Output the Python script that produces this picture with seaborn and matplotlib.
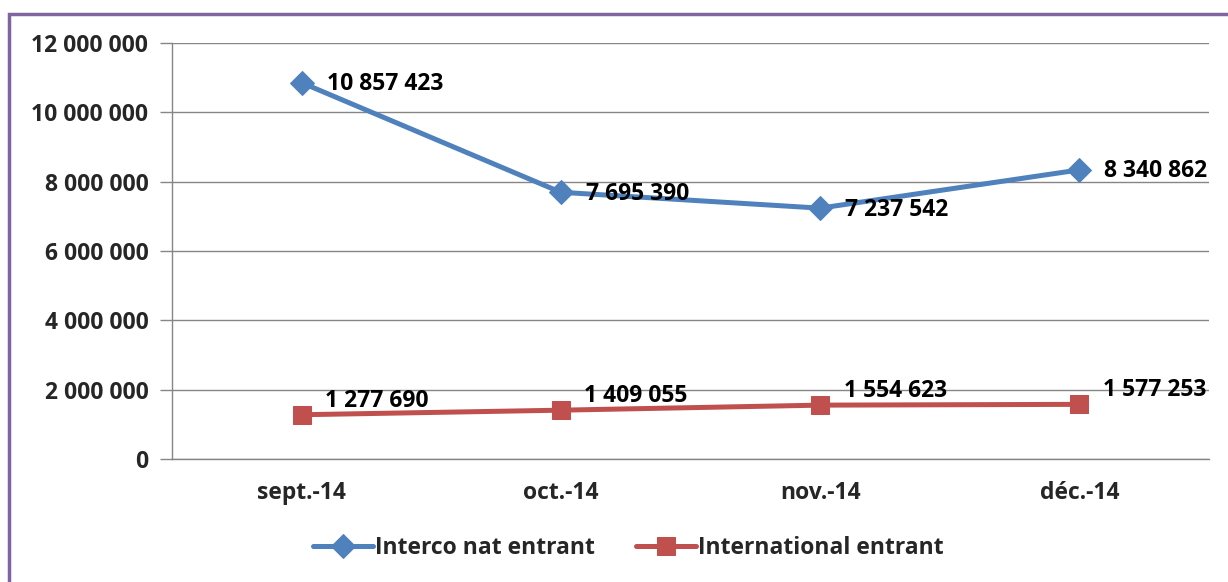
import matplotlib
matplotlib.use("Agg")
import matplotlib.pyplot as plt
import seaborn as sns
import pandas as pd
from matplotlib.patches import Rectangle
from matplotlib.ticker import FuncFormatter, FixedLocator

# données
mois = ["sept.-14", "oct.-14", "nov.-14", "déc.-14"]
interco_nat = [10857423, 7695390, 7237542, 8340862]
international = [1277690, 1409055, 1554623, 1577253]
series_names = ["Interco nat entrant", "International entrant"]

sns.set_theme(style="white")
plt.rcParams['font.family'] = ['Open Sans', 'DejaVu Sans']
plt.rcParams['font.weight'] = 'bold'

FS = 16.5

def fmt(v):
    return f"{int(v):,}".replace(",", " ")

fig = plt.figure(figsize=(12.28, 5.82), dpi=100)
ax = fig.add_axes([0.140, 0.2113, 0.8445, 0.7147])

x = list(range(len(mois)))
df = pd.DataFrame({"x": x, "interco": interco_nat, "intl": international})

blue = "#4F81BD"
red = "#C0504D"
sns.lineplot(data=df, x="x", y="interco", ax=ax, color=blue, lw=3.6,
             marker="D", markersize=12, markeredgecolor=blue, label=series_names[0])
sns.lineplot(data=df, x="x", y="intl", ax=ax, color=red, lw=3.6,
             marker="s", markersize=13.5, markeredgecolor=red, label=series_names[1])

# étiquettes de données
for xi, v in zip(x, interco_nat):
    ax.annotate(fmt(v), (xi, v), xytext=(18, -1), textcoords="offset points",
                ha="left", va="center", fontsize=FS, fontweight="bold", color="black")
for xi, v in zip(x, international):
    ax.annotate(fmt(v), (xi, v), xytext=(17, 10), textcoords="offset points",
                ha="left", va="center", fontsize=FS, fontweight="bold", color="black")

ax.set_xlim(-0.5, 3.5)
ax.set_ylim(0, 12000000)
ax.set_yticks(range(0, 12000001, 2000000))
ax.yaxis.set_major_formatter(FuncFormatter(lambda v, p: fmt(v)))
ax.set_xticks(x)
ax.set_xticklabels(mois)
ax.xaxis.set_minor_locator(FixedLocator([-0.5, 0.5, 1.5, 2.5, 3.5]))
ax.tick_params(axis="x", which="major", length=0, pad=16, labelsize=FS)
ax.tick_params(axis="x", which="minor", length=6, width=1, color="#868686", direction="out")
ax.tick_params(axis="y", length=9, width=1, color="#868686", direction="out",
               pad=8, labelsize=FS, left=True)
for lab in ax.get_xticklabels() + ax.get_yticklabels():
    lab.set_fontweight("bold")
ax.set_xlabel("")
ax.set_ylabel("")

ax.grid(axis="y", color="#868686", lw=1)
ax.set_axisbelow(True)
for side in ["top", "right"]:
    ax.spines[side].set_visible(False)
for side in ["left", "bottom"]:
    ax.spines[side].set_color("#868686")
    ax.spines[side].set_linewidth(1)

leg = ax.legend(loc="center", bbox_to_anchor=(0.44, -0.215), ncol=2, frameon=False,
                handlelength=2.6, handletextpad=0.1, columnspacing=1.8,
                prop={"weight": "bold", "size": FS})

# cadre violet
fig.patches.append(Rectangle((9 / 1228, -0.1), 1.2, 1 - 14 / 582 + 0.1,
                             transform=fig.transFigure, fill=False,
                             edgecolor="#8064A2", lw=2.5))

fig.savefig("out.png", dpi=100)
